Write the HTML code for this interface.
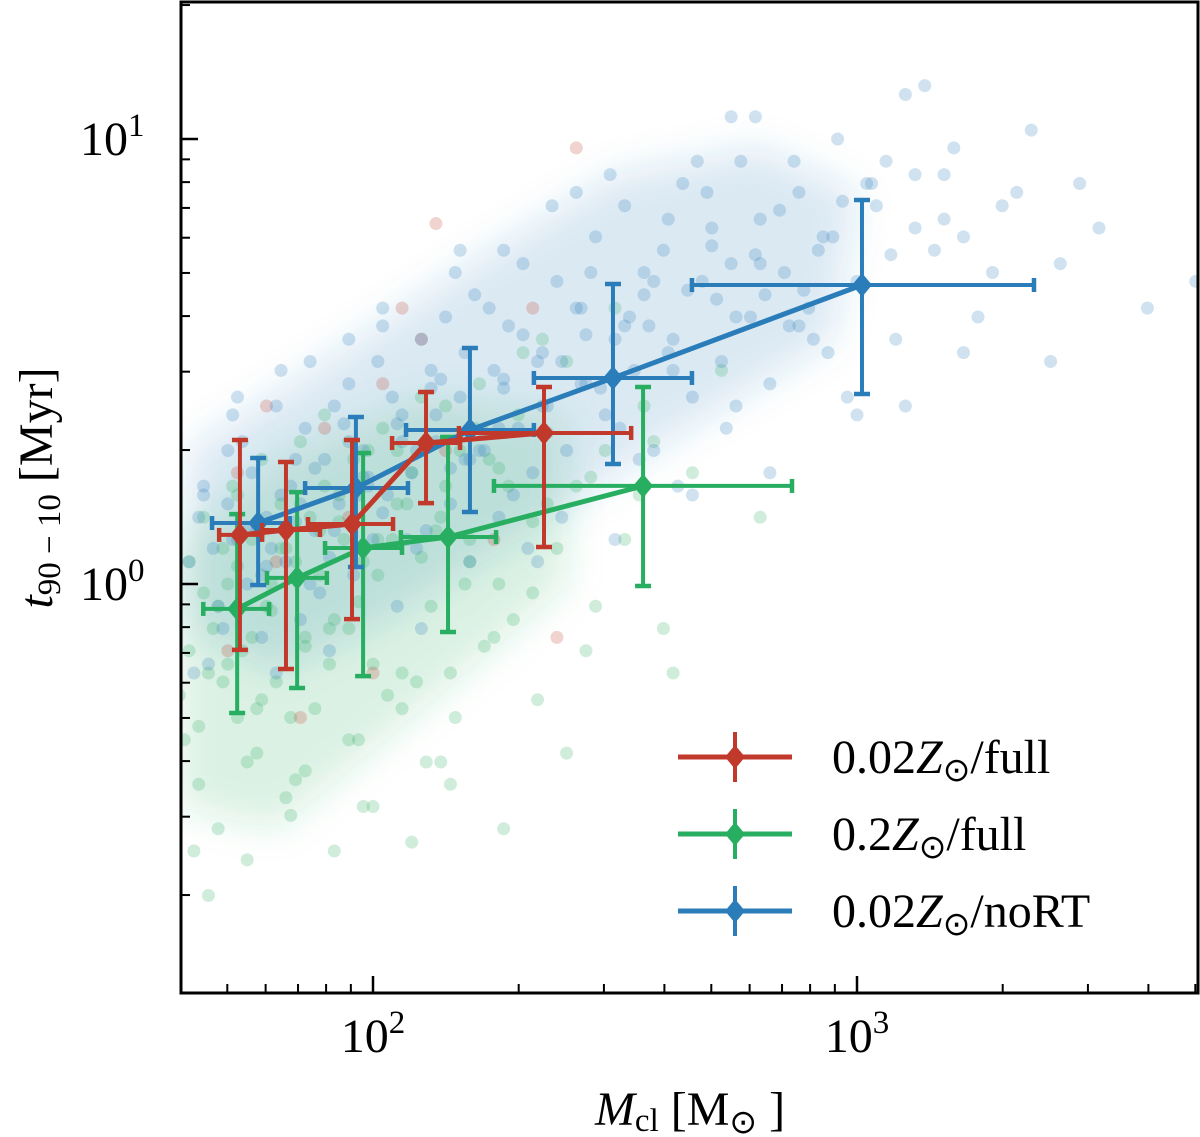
<!DOCTYPE html>
<html><head><meta charset="utf-8">
<style>
html,body{margin:0;padding:0;background:#fff;}
svg{display:block;font-family:"Liberation Serif",serif;}
</style></head>
<body>
<svg id="chart" width="1200" height="1137" viewBox="0 0 1200 1137" xmlns="http://www.w3.org/2000/svg">
<g id="density"></g>
<g id="scatter"></g>
<g id="series"></g>
<g id="axes"></g>
<g id="legend"></g>
</svg>
<script>
// ---- binned series data (mass in Msun, t in Myr) ----
const redMass   = [53.1, 66.1, 90.5, 128.7, 225.6];
const redMassLo = [48.1, 59.0, 73.4, 109.5, 150.5];
const redMassHi = [59.0, 77.7, 110, 151.3, 341.5];
const redT      = [1.289, 1.322, 1.364, 2.074, 2.185];
const redTLo    = [0.711, 0.644, 0.834, 1.52, 1.211];
const redTHi    = [2.106, 1.880, 2.106, 2.70, 2.772];

const greenMass   = [52.4, 69.7, 95.4, 142.9, 361.4];
const greenMassLo = [44.6, 60.4, 79.6, 114.2, 177.8];
const greenMassHi = [61.0, 80.3, 114.8, 179.6, 734];
const greenT      = [0.879, 1.032, 1.205, 1.275, 1.661];
const greenTLo    = [0.513, 0.584, 0.621, 0.780, 0.990];
const greenTHi    = [1.436, 1.609, 1.970, 2.140, 2.772];

const blueMass   = [57.9, 92.2, 158.6, 313.2, 1024];
const blueMassLo = [46.5, 72.4, 117, 215, 456];
const blueMassHi = [67.3, 118.1, 215, 456, 2321];
const blueT      = [1.371, 1.643, 2.219, 2.904, 4.698];
const blueTLo    = [0.995, 1.092, 1.451, 1.861, 2.673];
const blueTHi    = [1.919, 2.373, 3.391, 4.722, 7.295];

// ---- individual clusters (log10 mass, log10 t) ----
const blueLogM = [1.62,1.65,1.68,1.70,1.72,1.74,1.75,1.77,1.78,1.80,1.82,1.83,1.85,1.86,1.88,1.90,1.91,1.93,1.95,1.96,1.98,2.00,2.01,2.03,2.05,2.06,2.08,2.10,2.11,2.13,2.15,2.16,2.18,2.20,2.21,2.23,2.25,2.26,2.28,2.30,2.31,2.33,2.35,2.36,2.38,2.40,2.42,2.44,2.46,2.48,2.50,2.52,2.54,2.56,2.58,2.60,2.62,2.64,2.66,2.68,2.70,2.72,2.74,2.76,2.78,2.80,2.82,2.85,2.88,2.90,2.93,2.96,3.00,3.04,3.08,3.12,3.16,3.20,3.25,3.30,3.36,3.42,3.50,3.60,3.70,
 1.64,1.69,1.73,1.79,1.84,1.89,1.94,1.99,2.04,2.09,2.14,2.19,2.24,2.29,2.34,2.39,2.45,2.51,2.57,2.63,2.69,2.75,2.81,2.87,2.94,3.02,3.10,3.18,3.28,3.40,
 1.66,1.71,1.76,1.81,1.87,1.92,1.97,2.02,2.07,2.12,2.17,2.22,2.27,2.32,2.37,2.43,2.49,2.55,2.61,2.67,2.73,2.79,2.86,2.92,2.98,3.06,3.14,3.22,3.33,3.46,
 1.63,1.72,1.80,1.87,1.95,2.02,2.10,2.18,2.26,2.34,2.42,2.50,2.58,2.66,2.74,2.82,2.91,3.00,3.10,3.22,
 1.67,1.70,1.74,1.77,1.81,1.84,1.88,1.91,1.95,1.98,2.02,2.05,2.09,2.12,2.16,2.19,2.23,2.27,2.31,2.35,2.39,2.43,2.47,2.52,2.56,2.61,2.65,2.70,2.75,2.80,2.84,2.89,2.95,3.03,3.12,
 1.65,1.71,1.78,1.85,1.92,1.99,2.06,2.13,2.20,2.27,2.36,2.44,2.53,2.62,2.71,2.79,2.88,2.97,3.07,3.18];
const blueLogT = [0.05,0.20,-0.05,0.30,0.10,0.00,0.25,-0.12,0.15,0.40,0.05,0.22,-0.08,0.35,0.12,0.28,-0.15,0.18,0.45,0.02,0.30,0.10,0.50,0.20,-0.05,0.38,0.25,0.55,0.12,0.32,0.60,0.18,0.42,0.05,0.65,0.30,0.48,0.15,0.58,0.35,0.72,0.25,0.52,0.40,0.68,0.30,0.62,0.45,0.78,0.38,0.55,0.85,0.48,0.65,0.30,0.75,0.55,0.90,0.42,0.68,0.80,0.50,0.72,0.95,0.60,0.82,0.45,0.70,0.88,0.62,0.78,1.00,0.68,0.85,0.55,0.92,0.75,0.98,0.60,0.85,1.02,0.72,0.80,0.62,0.68,
 0.15,-0.10,0.32,0.08,0.28,-0.02,0.36,0.22,0.42,0.08,0.46,0.28,0.62,0.20,0.50,0.15,0.70,0.35,0.58,0.22,0.88,0.40,0.65,0.95,0.52,0.90,0.40,0.82,0.70,0.50,
 -0.18,0.38,0.12,0.48,0.00,0.40,0.20,0.58,0.10,0.48,0.70,0.30,0.75,0.08,0.85,0.45,0.92,0.28,0.82,0.95,0.35,1.05,0.58,0.75,0.42,0.95,1.12,0.52,0.88,0.90,
 -0.20,0.42,-0.20,0.50,0.55,0.62,-0.10,0.75,0.35,0.05,0.88,0.10,0.68,0.20,1.05,0.25,0.55,0.38,1.10,0.78,
 0.08,0.18,0.12,0.02,0.20,0.14,0.26,0.06,0.32,0.24,0.16,0.36,0.30,0.44,0.26,0.52,0.34,0.46,0.56,0.40,0.50,0.62,0.44,0.58,0.70,0.52,0.66,0.76,0.60,0.72,0.84,0.66,0.78,0.90,0.80,
 0.22,0.10,0.04,0.18,0.12,0.24,0.32,0.38,0.28,0.44,0.34,0.56,0.60,0.48,0.64,0.74,0.58,0.86,0.74,0.92];

const greenLogM = [1.60,1.62,1.64,1.65,1.67,1.68,1.70,1.71,1.72,1.73,1.75,1.76,1.77,1.78,1.80,1.81,1.82,1.84,1.85,1.86,1.88,1.89,1.90,1.92,1.93,1.95,1.96,1.98,2.00,2.02,2.04,2.06,2.08,2.10,2.12,2.14,2.16,2.18,2.20,2.22,2.25,2.28,2.30,2.33,2.36,2.40,2.44,2.48,2.52,2.56,2.60,2.66,2.72,2.80,
 1.63,1.66,1.69,1.74,1.79,1.83,1.87,1.91,1.94,1.97,2.01,2.05,2.09,2.13,2.17,2.21,2.26,2.31,2.38,2.46,
 1.61,1.68,1.72,1.76,1.81,1.86,1.90,1.95,1.99,2.03,2.07,2.11,2.15,2.19,2.24,2.29,2.35,2.42,2.50,2.58,
 1.66,1.74,1.83,1.92,2.00,2.08,2.16,2.27,2.40,2.62,
 1.62,1.65,1.69,1.72,1.75,1.79,1.82,1.86,1.89,1.93,1.97,2.01,2.05,2.10,2.15,2.20,2.26,2.33,2.45,2.55,
 1.64,1.70,1.77,1.84,1.91,1.98,2.06,2.14,2.23,2.34];
const greenLogT = [-0.25,0.05,-0.45,0.15,-0.10,-0.55,0.00,0.22,-0.30,-0.15,0.10,-0.38,0.28,-0.05,-0.22,0.18,-0.48,0.05,0.32,-0.12,-0.28,0.12,0.38,-0.08,0.20,-0.35,0.28,0.05,-0.18,0.35,0.10,-0.28,0.25,0.42,-0.05,0.15,-0.20,0.30,0.05,0.45,-0.12,0.22,0.38,-0.02,0.18,0.50,-0.15,0.30,0.10,0.40,-0.10,0.25,0.48,0.15,
 -0.60,-0.20,0.08,-0.40,0.00,-0.30,0.15,-0.18,0.10,-0.35,0.02,0.30,-0.22,0.12,-0.30,0.35,0.00,0.52,0.08,-0.05,
 -0.35,-0.05,0.20,-0.28,0.08,-0.42,0.22,-0.10,0.30,-0.25,0.18,-0.40,0.40,0.00,0.28,-0.08,0.55,0.22,0.62,0.32,
 -0.70,-0.62,-0.52,-0.60,-0.50,-0.58,-0.45,-0.55,-0.38,-0.20,
 -0.15,-0.02,-0.22,0.04,-0.12,-0.06,0.08,-0.14,0.02,0.14,-0.04,0.10,0.18,0.06,0.22,0.10,0.26,0.14,0.24,0.20,
 -0.32,-0.18,-0.26,-0.44,-0.10,-0.50,-0.20,-0.40,-0.14,-0.26];

const redLogM = [1.72,1.80,1.90,2.02,2.15,2.33,2.00,1.85,2.42,2.25,1.70,2.10,1.95,2.38,2.13,1.78,2.06];
const redLogT = [0.25,0.05,0.35,0.45,0.30,0.62,-0.20,-0.30,0.98,0.10,-0.15,0.55,0.15,-0.12,0.81,0.40,0.62];

// density outline vertices of the dense cores (log10 mass, log10 t)
const blueCoreLogM = [1.62,1.62,1.90,2.20,2.50,2.80,3.00,2.95,2.65,2.30,2.00,1.80];
const blueCoreLogT = [-0.10,0.30,0.50,0.72,0.92,0.98,0.88,0.55,0.35,0.10,-0.10,-0.20];
const greenCoreLogM = [1.60,1.60,1.80,2.10,2.40,2.40,2.10,1.80];
const greenCoreLogT = [-0.50,0.10,0.28,0.42,0.38,0.00,-0.28,-0.55];

// ---- axes geometry ----
const X0 = 181, X1 = 1198, Y0 = 2, Y1 = 993;
const LX0 = 2 + (X0 - 373) / 484, LX1 = 2 + (X1 - 373) / 484;
const LY0 = (584 - Y1) / 445, LY1 = (584 - Y0) / 445;
function xs(m){ return X0 + (Math.log10(m) - LX0) / (LX1 - LX0) * (X1 - X0); }
function ys(t){ return Y1 - (Math.log10(t) - LY0) / (LY1 - LY0) * (Y1 - Y0); }
function xsl(l){ return xs(Math.pow(10, l)); }
function ysl(l){ return ys(Math.pow(10, l)); }

const NS = "http://www.w3.org/2000/svg";
function mk(tag, attrs, parent){
  const e = document.createElementNS(NS, tag);
  for (const k in attrs) e.setAttribute(k, attrs[k]);
  parent.appendChild(e);
  return e;
}
const C = {red:"#c0392b", green:"#27ae60", blue:"#2a7db9"};

const svg = document.getElementById("chart");
const defs = mk("defs", {}, svg);
const cp = mk("clipPath", {id:"plotclip"}, defs);
mk("rect", {x:X0, y:Y0, width:X1-X0, height:Y1-Y0}, cp);
const fl = mk("filter", {id:"blur", x:"-20%", y:"-20%", width:"140%", height:"140%"}, defs);
mk("feGaussianBlur", {stdDeviation:18}, fl);

// density underlay
const dn = document.getElementById("density");
dn.setAttribute("clip-path", "url(#plotclip)");
function drawCore(lm, lt, color, name){
  let d = "";
  for (let i = 0; i < lm.length; i++) d += (i ? "L" : "M") + xsl(lm[i]) + " " + ysl(lt[i]);
  const p = mk("path", {d:d + "Z", fill:color, "fill-opacity":0.17, filter:"url(#blur)"}, dn);
  
  
}
drawCore(blueCoreLogM, blueCoreLogT, C.blue, "density-002zsun-nort");
drawCore(greenCoreLogM, greenCoreLogT, C.green, "density-02zsun-full");

// scatter
const sc = document.getElementById("scatter");
sc.setAttribute("clip-path", "url(#plotclip)");
function drawScatter(lm, lt, color, name){
  for (let i = 0; i < lm.length; i++){
    const c = mk("circle", {cx:xsl(lm[i]), cy:ysl(lt[i]), r:6.5, fill:color, "fill-opacity":0.22}, sc);
    
    
  }
}
drawScatter(greenLogM, greenLogT, C.green, "scatter-point-02zsun-full");
drawScatter(redLogM, redLogT, C.red, "scatter-point-002zsun-full");
drawScatter(blueLogM, blueLogT, C.blue, "scatter-point-002zsun-nort");

// series
const sg = document.getElementById("series");
function drawSeries(m, mlo, mhi, t, tlo, thi, color, name){
  const g = mk("g", {}, sg);
  
  
  for (let i = 0; i < m.length; i++){
    const x = xs(m[i]), y = ys(t[i]);
    const xl = xs(mlo[i]), xh = xs(mhi[i]), yl = ys(tlo[i]), yh = ys(thi[i]);
    mk("line", {x1:xl, y1:y, x2:xh, y2:y, stroke:color, "stroke-width":4}, g);
    mk("line", {x1:x, y1:yl, x2:x, y2:yh, stroke:color, "stroke-width":4}, g);
    mk("line", {x1:xl, y1:y-7, x2:xl, y2:y+7, stroke:color, "stroke-width":4.5}, g);
    mk("line", {x1:xh, y1:y-7, x2:xh, y2:y+7, stroke:color, "stroke-width":4.5}, g);
    mk("line", {x1:x-8, y1:yl, x2:x+8, y2:yl, stroke:color, "stroke-width":4.5}, g);
    mk("line", {x1:x-8, y1:yh, x2:x+8, y2:yh, stroke:color, "stroke-width":4.5}, g);
  }
  let d = "";
  for (let i = 0; i < m.length; i++) d += (i ? "L" : "M") + xs(m[i]) + " " + ys(t[i]);
  mk("path", {d:d, fill:"none", stroke:color, "stroke-width":5, "stroke-linejoin":"round"}, g);
  for (let i = 0; i < m.length; i++){
    const x = xs(m[i]), y = ys(t[i]);
    const mkr = mk("path", {d:`M${x} ${y-12}L${x+10} ${y}L${x} ${y+12}L${x-10} ${y}Z`, fill:color}, g);
    
    
  }
}
drawSeries(greenMass, greenMassLo, greenMassHi, greenT, greenTLo, greenTHi, C.green, "series-02zsun-full");
drawSeries(blueMass, blueMassLo, blueMassHi, blueT, blueTLo, blueTHi, C.blue, "series-002zsun-nort");
drawSeries(redMass, redMassLo, redMassHi, redT, redTLo, redTHi, C.red, "series-002zsun-full");

// axes
const ax = document.getElementById("axes");
const frame = mk("rect", {x:X0, y:Y0, width:X1-X0, height:Y1-Y0, fill:"none", stroke:"#000", "stroke-width":3}, ax);


const xMinor = [50,60,70,80,90,200,300,400,500,600,700,800,900,2000,3000,4000,5000];
const xMajor = [100, 1000];
const xMajorLabels = ["2", "3"];
const yMinor = [0.2,0.3,0.4,0.5,0.6,0.7,0.8,0.9,2,3,4,5,6,7,8,9,20];
const yMajor = [1, 10];
const yMajorLabels = ["0", "1"];
xMinor.forEach(v => { const x = xs(v); if (x > X0 && x < X1) mk("line", {x1:x, y1:Y1, x2:x, y2:Y1-9, stroke:"#000", "stroke-width":2}, ax); });
yMinor.forEach(v => { const y = ys(v); if (y > Y0 && y < Y1) mk("line", {x1:X0, y1:y, x2:X0+9, y2:y, stroke:"#000", "stroke-width":2}, ax); });
xMajor.forEach((v, i) => {
  const x = xs(v);
  mk("line", {x1:x, y1:Y1, x2:x, y2:Y1-17, stroke:"#000", "stroke-width":2.5}, ax);
  const t = mk("text", {x:x, y:1052, "font-size":48, "text-anchor":"middle"}, ax);
  
  
  t.innerHTML = `10<tspan dy="-19" font-size="33">${xMajorLabels[i]}</tspan>`;
});
yMajor.forEach((v, i) => {
  const y = ys(v);
  mk("line", {x1:X0, y1:y, x2:X0+17, y2:y, stroke:"#000", "stroke-width":2.5}, ax);
  const t = mk("text", {x:80, y:y+16, "font-size":48}, ax);
  
  
  t.innerHTML = `10<tspan dy="-19" font-size="33">${yMajorLabels[i]}</tspan>`;
});
const xt = mk("text", {x:690, y:1125, "font-size":48, "text-anchor":"middle"}, ax);


xt.innerHTML = `<tspan font-style="italic">M</tspan><tspan font-size="33" dy="6">cl</tspan><tspan dy="-6"> [M</tspan><tspan font-size="33" dy="8">⊙</tspan><tspan dy="-8"> ]</tspan>`;
const yt = mk("text", {x:0, y:0, "font-size":48, "text-anchor":"middle", transform:"translate(52,488) rotate(-90)"}, ax);


yt.innerHTML = `<tspan font-style="italic">t</tspan><tspan font-size="33" dy="8">90 − 10</tspan><tspan dy="-8"> [Myr]</tspan>`;

// legend
const lg = document.getElementById("legend");
const legendLabels = ["0.02", "0.2", "0.02"];
const legendSuffix = ["/full", "/full", "/noRT"];
const legendColors = [C.red, C.green, C.blue];
legendLabels.forEach((lab, i) => {
  const y = 757 + i * 77;
  const g = mk("g", {}, lg);
  
  
  const col = legendColors[i];
  mk("line", {x1:678, y1:y, x2:792, y2:y, stroke:col, "stroke-width":5}, g);
  mk("line", {x1:735, y1:y-25, x2:735, y2:y+25, stroke:col, "stroke-width":4}, g);
  mk("path", {d:`M735 ${y-12}L745 ${y}L735 ${y+12}L725 ${y}Z`, fill:col}, g);
  const t = mk("text", {x:832, y:y+16, "font-size":48}, g);
  t.innerHTML = `${lab}<tspan font-style="italic">Z</tspan><tspan font-size="33" dy="8">⊙</tspan><tspan dy="-8">${legendSuffix[i]}</tspan>`;
});
</script>
</body></html>
